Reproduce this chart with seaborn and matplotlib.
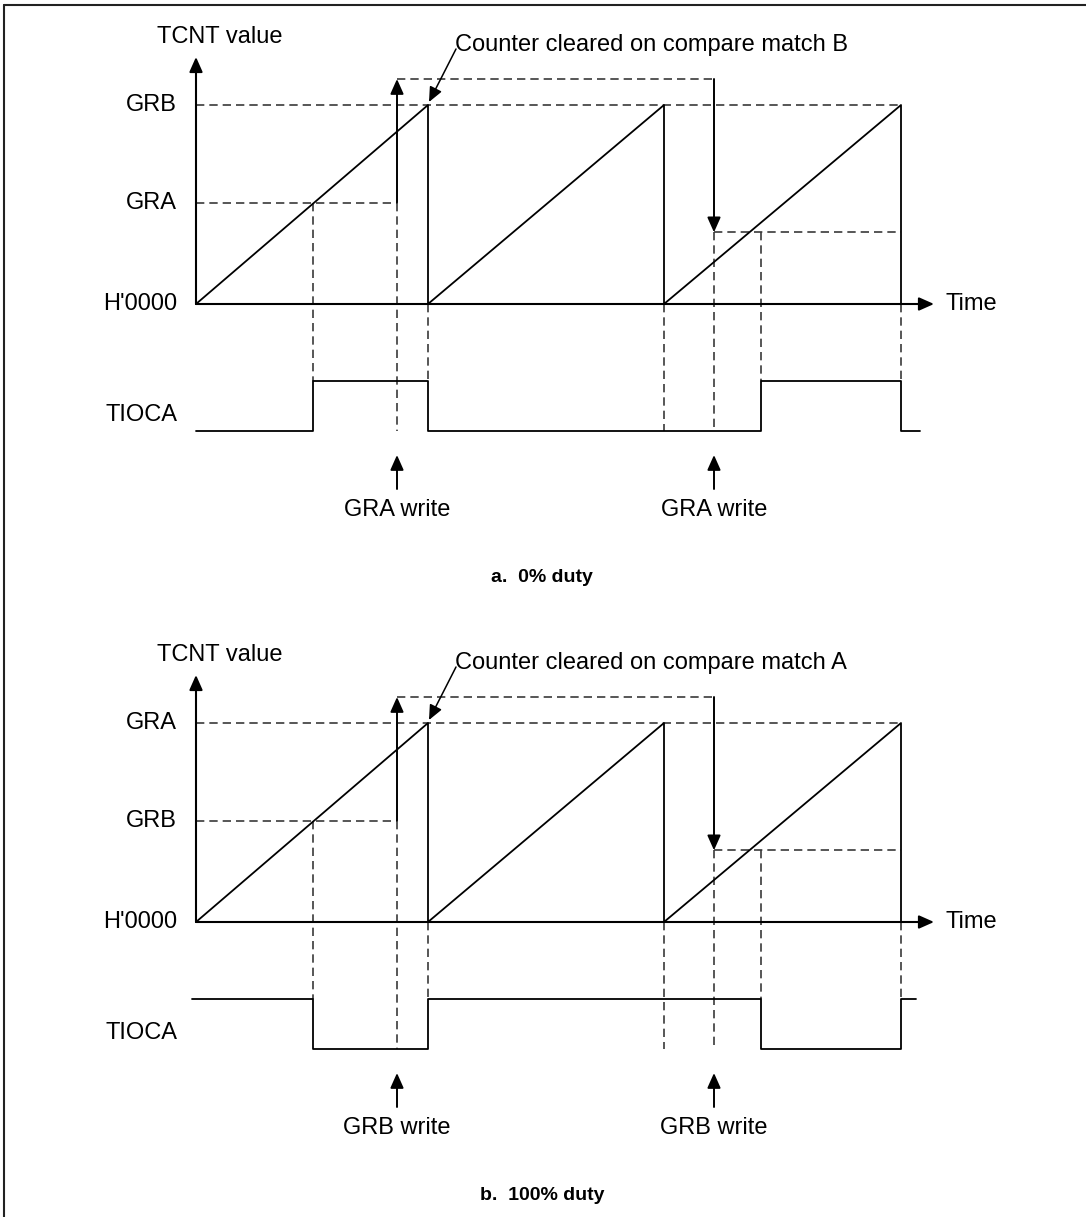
import numpy as np
import pandas as pd
import matplotlib
matplotlib.use("Agg")
import matplotlib.pyplot as plt
import seaborn as sns
from matplotlib.lines import Line2D

# ---------------- data (time units / counter units) ----------------
clear_times = [0, 232, 468, 705]          # TCNT cleared (end of each period)
period_value = 100                         # GRB (a) / GRA (b) : period register
duty_old = 51                              # compare value before write
duty_new = 36                              # compare value after write
compare_times = [117, 565]                 # TCNT == compare register
write_times = [201, 518]                   # register writes
time_end = 738                             # end of time axis

panel_a_regs = ["GRB", "GRA"]
panel_b_regs = ["GRA", "GRB"]
tioca_a_times = [0, 117, 232, 565, 705, 724]
tioca_a_levels = [0, 1, 0, 1, 0, 0]
tioca_b_times = [-4, 117, 232, 565, 705, 720]
tioca_b_levels = [1, 0, 1, 0, 1, 1]
captions = ["a.  0% duty", "b.  100% duty"]
clear_notes = ["Counter cleared on compare match B", "Counter cleared on compare match A"]
write_notes = ["GRA write", "GRB write"]

# ---------------- layout ----------------
W, H, DPI = 1086, 1217, 100
YS = 1.99  # px per counter unit

sns.set_theme(style="white")
plt.rcParams['font.family'] = ['Liberation Sans', 'DejaVu Sans']
plt.rcParams['text.color'] = 'black'

fig = plt.figure(figsize=(W / DPI, H / DPI), dpi=DPI)


def make_axes(top, bottom, ox, oy):
    ax = fig.add_axes([0, 1 - bottom / H, 1, (bottom - top) / H])
    ax.set_xlim(-ox, W - ox)
    ax.set_ylim((oy - bottom) / YS, (oy - top) / YS)
    ax.axis('off')
    return ax


def v(px):
    return px / YS


FS = 17
DASH = dict(color='#3a3a3a', lw=1.2, ls=(0, (5, 3)))
SOLID = dict(color='black', lw=1.3)


def arrow(ax, start, tip, lw=1.4):
    ax.annotate('', xy=tip, xytext=start,
                arrowprops=dict(arrowstyle='-|>,head_length=9,head_width=4',
                                mutation_scale=1, color='black', lw=lw,
                                shrinkA=0, shrinkB=0))


def draw_panel(ax, regs, tt, tl, caption, clear_note, write_note):
    y_hi, y_lo = -v(77), -v(127)
    tioca_y = [y_lo + (y_hi - y_lo) * s for s in tl]

    # dashed guide lines
    ax.plot([0, clear_times[-1]], [period_value, period_value], **DASH)
    ax.plot([0, write_times[0]], [duty_old, duty_old], **DASH)
    ax.plot([write_times[1], clear_times[-1]], [duty_new, duty_new], **DASH)
    cm_level = v(225)
    ax.plot([write_times[0], write_times[1]], [cm_level, cm_level], **DASH)
    verticals = [(compare_times[0], duty_old, y_hi),
                 (write_times[0], duty_old, y_lo),
                 (clear_times[1], 0, y_hi),
                 (clear_times[2], 0, y_lo),
                 (write_times[1], duty_new, y_lo),
                 (compare_times[1], duty_new, y_hi),
                 (clear_times[3], 0, y_hi)]
    for t, y0, y1 in verticals:
        ax.plot([t, t], [y0, y1], **DASH)

    # sawtooth counter
    xs, ys = [], []
    for a, b in zip(clear_times[:-1], clear_times[1:]):
        xs += [a, b, b]
        ys += [0, period_value, 0]
    saw = pd.DataFrame({"t": xs, "v": ys})
    sns.lineplot(data=saw, x="t", y="v", sort=False, estimator=None, ax=ax, **SOLID)

    # TIOCA waveform
    wave = pd.DataFrame({"t": tt, "v": tioca_y})
    sns.lineplot(data=wave, x="t", y="v", sort=False, estimator=None, ax=ax,
                 drawstyle='steps-post', **SOLID)

    # axes
    arrow(ax, (0, 0), (0, v(247)), lw=1.5)
    arrow(ax, (0, 0), (time_end, 0), lw=1.5)
    ax.text(time_end + 11, 0, "Time", fontsize=FS, ha='left', va='center')
    ax.text(-39, v(267), "TCNT value", fontsize=FS, ha='left', va='center')
    ax.text(-19, period_value, regs[0], fontsize=FS, ha='right', va='center')
    ax.text(-19, duty_old, regs[1], fontsize=FS, ha='right', va='center')
    ax.text(-19, 0, "H'0000", fontsize=FS, ha='right', va='center')
    ax.text(-19, -v(111), "TIOCA", fontsize=FS, ha='right', va='center')

    # compare-value update arrows
    arrow(ax, (write_times[0], duty_old), (write_times[0], cm_level))
    arrow(ax, (write_times[1], cm_level), (write_times[1], duty_new))

    # counter cleared note
    ax.text(259, v(259), clear_note, fontsize=FS, ha='left', va='center')
    arrow(ax, (260, v(255)), (clear_times[1] + 1, period_value + v(3)), lw=1.1)

    # write arrows
    for t in write_times:
        arrow(ax, (t, -v(185)), (t, -v(151)), lw=1.4)
        ax.text(t, -v(206), write_note, fontsize=FS, ha='center', va='center')

    ax.text(346, -v(274), caption, fontsize=14, fontweight='bold', ha='center', va='center')


ax_a = make_axes(0, 608, 196, 304)
draw_panel(ax_a, panel_a_regs, tioca_a_times, tioca_a_levels, captions[0], clear_notes[0], write_notes[0])
ax_b = make_axes(608, 1217, 196, 922)
draw_panel(ax_b, panel_b_regs, tioca_b_times, tioca_b_levels, captions[1], clear_notes[1], write_notes[1])

# frame
fig.add_artist(Line2D([4 / W, 1], [1 - 5 / H, 1 - 5 / H], transform=fig.transFigure, color='#222222', lw=1.5))
fig.add_artist(Line2D([4 / W, 4 / W], [0, 1 - 5 / H], transform=fig.transFigure, color='#222222', lw=1.5))

fig.savefig("out.png", dpi=DPI, facecolor='white')
